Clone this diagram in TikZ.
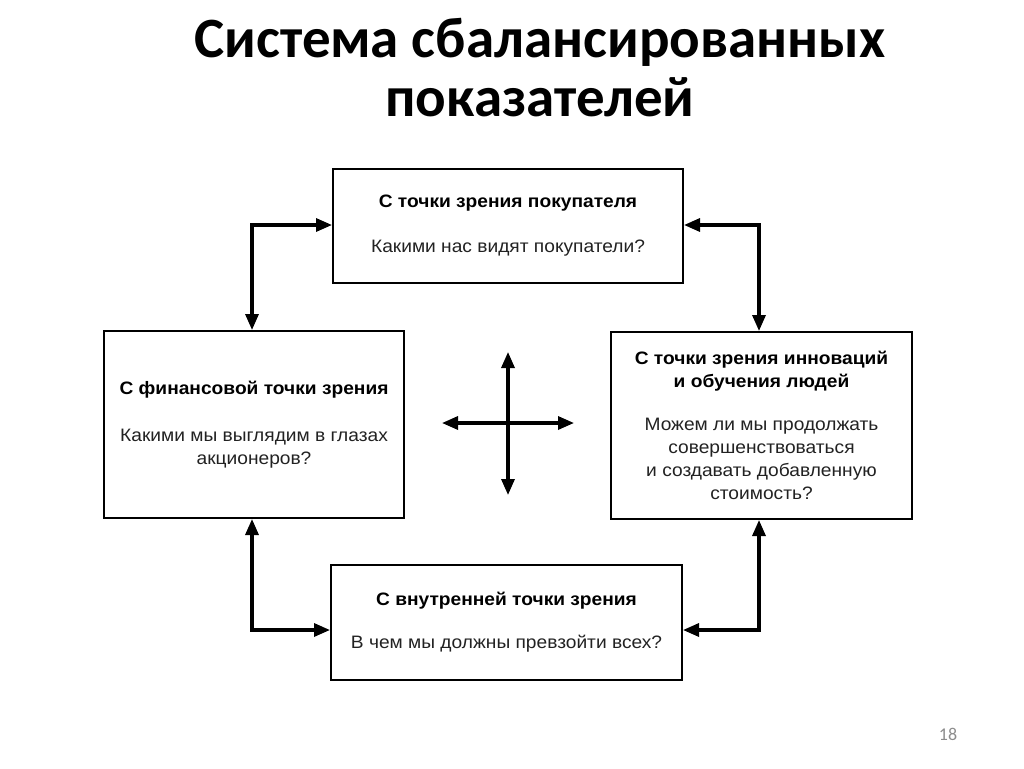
\documentclass[tikz,border=0pt]{standalone}
\usepackage{fontspec}
\setmainfont{Liberation Sans}[FakeStretch=1.065]
\newfontfamily\titlefont{Carlito}
\usetikzlibrary{arrows.meta}
\definecolor{bodygray}{HTML}{222222}
\definecolor{pagegray}{HTML}{8C8C8C}
\tikzset{
  box/.style={draw=black, line width=2pt, fill=white, align=center, inner sep=0pt,
              font=\fontsize{18}{23}\selectfont, text=bodygray},
  arr/.style={line width=3.2pt, {Triangle[length=16pt,width=13pt]}-{Triangle[length=16pt,width=13pt]}}
}
\newcommand{\hdr}[1]{{\bfseries\color{black}#1}}
\begin{document}
\begin{tikzpicture}[x=1pt,y=1pt]
\useasboundingbox (0,0) rectangle (1024,-768);
\node[font=\titlefont\bfseries\fontsize{57}{59}\selectfont, align=center] (title) at (540,-68)
  {Система сбалансированных\\показателей};
\node[box, minimum width=350pt, minimum height=114pt] (top) at (508,-226)
  {\hdr{С точки зрения покупателя}\\[22pt]Какими нас видят покупатели?};
\node[box, minimum width=300pt, minimum height=187pt] (fin) at (254,-424.5)
  {\hdr{С финансовой точки зрения}\\[24pt]Какими мы выглядим в глазах\\акционеров?};
\node[box, minimum width=301pt, minimum height=187pt] (inn) at (761.5,-425.5)
  {\hdr{С точки зрения инноваций}\\\hdr{и обучения людей}\\[20pt]Можем ли мы продолжать\\совершенствоваться\\и создавать добавленную\\стоимость?};
\node[box, minimum width=351pt, minimum height=115pt] (int) at (506.5,-622.5)
  {\hdr{С внутренней точки зрения}\\[20pt]В чем мы должны превзойти всех?};
\coordinate (tl) at (252,-225);
\coordinate (tr) at (759,-225);
\coordinate (bl) at (252,-630);
\coordinate (br) at (759,-630);
\draw[arr] (top.west |- tl) -- (tl) -- (tl |- fin.north);
\draw[arr] (top.east |- tr) -- (tr) -- (tr |- inn.north);
\draw[arr] (int.west |- bl) -- (bl) -- (bl |- fin.south);
\draw[arr] (int.east |- br) -- (br) -- (br |- inn.south);
\coordinate (cn) at (508,-352);
\coordinate (cs) at (508,-495);
\coordinate (cw) at (442,-423);
\coordinate (ce) at (574,-423);
\draw[arr] (cn) -- (cs);
\draw[arr] (cw) -- (ce);
\node[font=\titlefont\fontsize{18}{20}\selectfont, text=pagegray] (page) at (948,-734) {18};
\end{tikzpicture}
\end{document}
